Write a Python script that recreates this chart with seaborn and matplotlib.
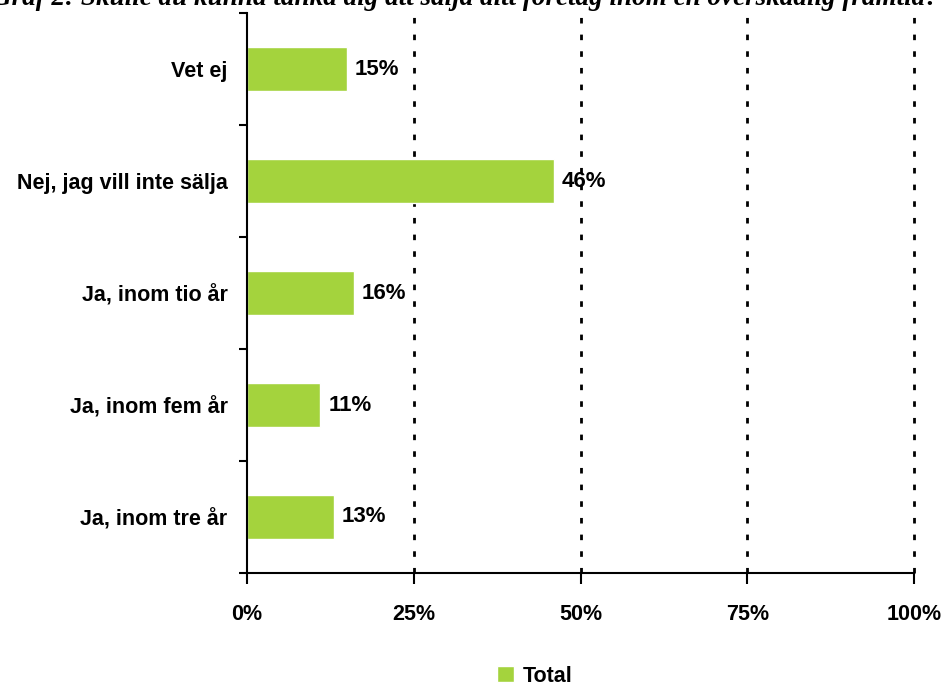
import seaborn as sns
import matplotlib.pyplot as plt
import matplotlib.ticker as mticker
import pandas as pd

categories = ["Vet ej", "Nej, jag vill inte sälja", "Ja, inom tio år",
              "Ja, inom fem år", "Ja, inom tre år"]
values = [15, 46, 16, 11, 13]
x_ticks = [0, 25, 50, 75, 100]
title = "Graf 2: Skulle du kunna tänka dig att sälja ditt företag inom en överskådlig framtid?"

df = pd.DataFrame({"svar": categories, "andel": values})

sns.set_style("white")
plt.rcParams["font.family"] = ["Liberation Sans", "DejaVu Sans"]
plt.rcParams["text.color"] = "black"
plt.rcParams["xtick.color"] = "black"
plt.rcParams["ytick.color"] = "black"

fig = plt.figure(figsize=(9.44, 6.84), dpi=100)
ax = fig.add_axes([247 / 944, 1 - 573 / 684, 667 / 944, 560 / 684])

sns.barplot(data=df, x="andel", y="svar", orient="h", color="#A4D33D",
            width=0.39, label="Total", ax=ax, saturation=1)
for p in ax.patches:
    p.set_zorder(3)

ax.set_xlim(0, 100)
ax.set_ylim(4.5, -0.5)
ax.set_xticks(x_ticks)
ax.xaxis.set_major_formatter(mticker.FuncFormatter(lambda v, p: f"{v:.0f}%"))
for v in x_ticks[1:]:
    ax.axvline(v, color="black", linestyle=(0, (2, 4)), linewidth=2,
               zorder=1, clip_on=False)

ax.set_yticks(range(len(categories)))
ax.set_yticklabels(categories)
ax.set_yticks([i - 0.5 for i in range(len(categories) + 1)], minor=True)
ax.tick_params(axis="y", which="major", length=0, pad=14, left=True)
ax.tick_params(axis="y", which="minor", length=6, width=1.5, direction="out", left=True)
ax.tick_params(axis="x", length=8, width=1.5, direction="out", pad=14, bottom=True)
for lab in ax.get_xticklabels() + ax.get_yticklabels():
    lab.set_fontweight("bold")
    lab.set_fontsize(15.5)

ax.set_xlabel("")
ax.set_ylabel("")
for s in ["top", "right"]:
    ax.spines[s].set_visible(False)
for s in ["left", "bottom"]:
    ax.spines[s].set_color("black")
    ax.spines[s].set_linewidth(1.5)
    ax.spines[s].set_zorder(4)

for i, v in enumerate(values):
    ax.text(v + 1.2, i, f"{v}%", va="center", ha="left",
            fontsize=16, fontweight="bold", zorder=5)

handles, labels = ax.get_legend_handles_labels()
if ax.get_legend():
    ax.get_legend().remove()
fig.legend(handles, labels, loc="center", bbox_to_anchor=(535 / 944, 1 - 676 / 684),
           frameon=False, handlelength=0.8, handleheight=0.8, handletextpad=0.4,
           prop={"weight": "bold", "size": 15.5})

fig.text(465 / 944, 1 - 5 / 684, title, ha="center", va="baseline",
         fontsize=19.5, fontweight="bold", fontstyle="italic",
         family=["Liberation Serif", "DejaVu Serif"])

fig.savefig("out.png", dpi=100)
